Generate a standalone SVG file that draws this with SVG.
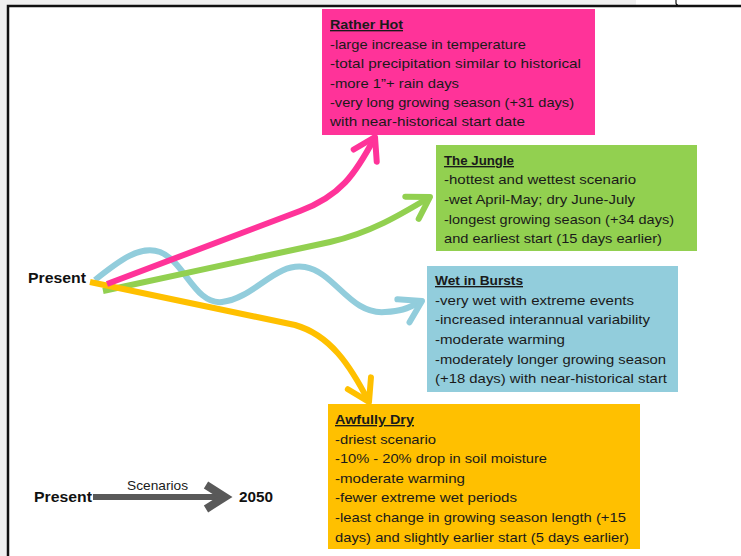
<svg xmlns="http://www.w3.org/2000/svg" width="741" height="556" viewBox="0 0 741 556">
<style>
.t{font-family:"Liberation Sans",Arial,sans-serif;font-size:13.5px;fill:#1a1a1a}
.h{font-weight:bold;text-decoration:underline}
.b{font-family:"Liberation Sans",Arial,sans-serif;font-weight:bold;fill:#111}
.c{fill:none;stroke-width:6;stroke-linecap:butt;stroke-linejoin:round}
</style>
<defs>
<marker id="ap" markerUnits="userSpaceOnUse" orient="auto" viewBox="-30 -30 60 60" markerWidth="60" markerHeight="60" refX="0" refY="0" overflow="visible"><path d="M-21,-13 L0,0 L-21,13" fill="none" stroke="#FF3399" stroke-width="6" stroke-linecap="round" stroke-linejoin="round"/></marker>
<marker id="ag" markerUnits="userSpaceOnUse" orient="auto" viewBox="-30 -30 60 60" markerWidth="60" markerHeight="60" refX="0" refY="0" overflow="visible"><path d="M-21,-13 L0,0 L-21,13" fill="none" stroke="#92D050" stroke-width="6" stroke-linecap="round" stroke-linejoin="round"/></marker>
<marker id="ab" markerUnits="userSpaceOnUse" orient="auto" viewBox="-30 -30 60 60" markerWidth="60" markerHeight="60" refX="0" refY="0" overflow="visible"><path d="M-21,-13 L0,0 L-21,13" fill="none" stroke="#92CDDC" stroke-width="6" stroke-linecap="round" stroke-linejoin="round"/></marker>
<marker id="ay" markerUnits="userSpaceOnUse" orient="auto" viewBox="-30 -30 60 60" markerWidth="60" markerHeight="60" refX="0" refY="0" overflow="visible"><path d="M-21,-13 L0,0 L-21,13" fill="none" stroke="#FFC000" stroke-width="6" stroke-linecap="round" stroke-linejoin="round"/></marker>
</defs>
<g id="frame">
<rect x="0" y="0" width="741" height="556" fill="#f0f0f0"/>
<rect x="636" y="0" width="105" height="6" fill="#ffffff"/>
<rect x="8" y="6" width="733" height="550" fill="#ffffff"/>
<path d="M8,556 L8,6 L741,6" fill="none" stroke="#111" stroke-width="2.5"/>
<path d="M676,0 L676,3 Q676,5 678,5" fill="none" stroke="#111" stroke-width="1.2"/>
</g>
<g id="connectors">
<path class="c" stroke="#92CDDC" d="M95,280 C120,260 140,245 160,252 C185,262 195,305 222,302 C255,298 275,262 305,267 C335,272 350,315 385,312 C400,311 405,310 422,301" marker-end="url(#ab)"/>
<path class="c" stroke="#92D050" d="M103,291 L330,242 C370,233 400,215 430,197" marker-end="url(#ag)"/>
<path class="c" stroke="#FFC000" d="M90,282 L295,325 C330,335 350,365 369,402" marker-end="url(#ay)"/>
<path class="c" stroke="#FF3399" d="M107,284 L300,211 C340,196 355,175 375,137" marker-end="url(#ap)"/>
</g>
<g id="present">
<text class="b" x="28" y="283" font-size="15.5" textLength="58" lengthAdjust="spacingAndGlyphs">Present</text>
</g>
<g id="rather-hot">
<rect x="322" y="9" width="273" height="126" fill="#FF3399"/>
<text class="t h" x="330" y="29" textLength="73" lengthAdjust="spacingAndGlyphs">Rather Hot</text>
<text class="t" x="330" y="49" textLength="196" lengthAdjust="spacingAndGlyphs">-large increase in temperature</text>
<text class="t" x="330" y="68" textLength="251" lengthAdjust="spacingAndGlyphs">-total precipitation similar to historical</text>
<text class="t" x="330" y="88" textLength="129" lengthAdjust="spacingAndGlyphs">-more 1”+ rain days</text>
<text class="t" x="330" y="107" textLength="244" lengthAdjust="spacingAndGlyphs">-very long growing season (+31 days)</text>
<text class="t" x="330" y="126" textLength="195" lengthAdjust="spacingAndGlyphs">with near-historical start date</text>
</g>
<g id="the-jungle">
<rect x="436" y="145" width="261" height="106" fill="#92D050"/>
<text class="t h" x="444" y="165" textLength="70" lengthAdjust="spacingAndGlyphs">The Jungle</text>
<text class="t" x="444" y="184" textLength="192" lengthAdjust="spacingAndGlyphs">-hottest and wettest scenario</text>
<text class="t" x="444" y="204" textLength="191" lengthAdjust="spacingAndGlyphs">-wet April-May; dry June-July</text>
<text class="t" x="444" y="224" textLength="230" lengthAdjust="spacingAndGlyphs">-longest growing season (+34 days)</text>
<text class="t" x="444" y="243" textLength="218" lengthAdjust="spacingAndGlyphs">and earliest start (15 days earlier)</text>
</g>
<g id="wet-in-bursts">
<rect x="427" y="266" width="251" height="126" fill="#92CDDC"/>
<text class="t h" x="435" y="285" textLength="88" lengthAdjust="spacingAndGlyphs">Wet in Bursts</text>
<text class="t" x="435" y="305" textLength="199" lengthAdjust="spacingAndGlyphs">-very wet with extreme events</text>
<text class="t" x="435" y="324" textLength="215" lengthAdjust="spacingAndGlyphs">-increased interannual variability</text>
<text class="t" x="435" y="344" textLength="130" lengthAdjust="spacingAndGlyphs">-moderate warming</text>
<text class="t" x="435" y="364" textLength="231" lengthAdjust="spacingAndGlyphs">-moderately longer growing season</text>
<text class="t" x="435" y="383" textLength="232" lengthAdjust="spacingAndGlyphs">(+18 days) with near-historical start</text>
</g>
<g id="awfully-dry">
<rect x="328" y="404" width="312" height="145" fill="#FFC000"/>
<text class="t h" x="335" y="424" textLength="79" lengthAdjust="spacingAndGlyphs">Awfully Dry</text>
<text class="t" x="335" y="444" textLength="101" lengthAdjust="spacingAndGlyphs">-driest scenario</text>
<text class="t" x="335" y="463" textLength="212" lengthAdjust="spacingAndGlyphs">-10% - 20% drop in soil moisture</text>
<text class="t" x="335" y="483" textLength="130" lengthAdjust="spacingAndGlyphs">-moderate warming</text>
<text class="t" x="335" y="502" textLength="182" lengthAdjust="spacingAndGlyphs">-fewer extreme wet periods</text>
<text class="t" x="335" y="522" textLength="291" lengthAdjust="spacingAndGlyphs">-least change in growing season length (+15</text>
<text class="t" x="335" y="542" textLength="294" lengthAdjust="spacingAndGlyphs">days) and slightly earlier start (5 days earlier)</text>
</g>
<g id="legend">
<path d="M93,497 L222,497" stroke="#595959" stroke-width="6" fill="none"/>
<path d="M206,485 L225,497 L206,509" stroke="#595959" stroke-width="8" fill="none" stroke-linejoin="miter"/>
<text class="b" x="34" y="502" font-size="15.5" textLength="58" lengthAdjust="spacingAndGlyphs">Present</text>
<text class="t" x="127" y="490" textLength="61" lengthAdjust="spacingAndGlyphs">Scenarios</text>
<text class="b" x="239" y="502" font-size="15.5" textLength="34" lengthAdjust="spacingAndGlyphs">2050</text>
</g>
</svg>
